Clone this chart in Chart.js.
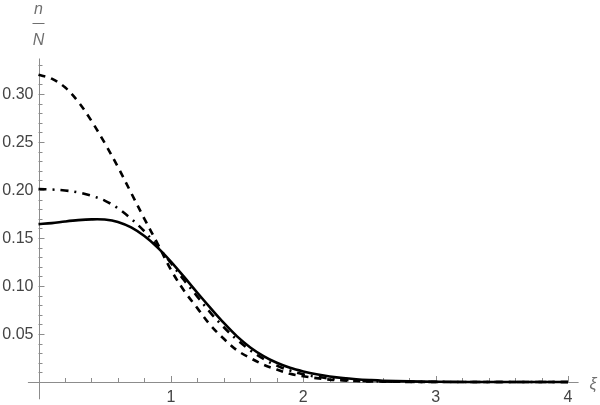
<!DOCTYPE html>
<html>
<head>
<meta charset="utf-8">
<script src="https://cdn.jsdelivr.net/npm/chart.js@4/dist/chart.umd.min.js"></script>
<style>
    html, body { margin: 0; padding: 0; background: #fff; }
    #wrap { width: 600px; height: 405px; }
</style>
</head>
<body>
<div id="wrap"><canvas id="plot" width="600" height="405"></canvas></div>
<script>
// xi values (sample positions)
const xiValues = [0, 0.1, 0.2, 0.3, 0.4, 0.5, 0.6, 0.7, 0.8, 0.9,
    1.0, 1.1, 1.2, 1.3, 1.4, 1.5, 1.6, 1.7, 1.8, 1.9,
    2.0, 2.1, 2.2, 2.3, 2.4, 2.5, 2.6, 2.8, 3.0, 3.5, 4.0];

// dashed curve
const dashedValues = [0.320, 0.316, 0.307, 0.292, 0.272, 0.249, 0.224, 0.197, 0.170, 0.144,
    0.117, 0.095, 0.077, 0.059, 0.045, 0.033, 0.025, 0.018, 0.013, 0.0085,
    0.006, 0.004, 0.0025, 0.0016, 0.001, 0.0006, 0.0004, 0.0001, 0, 0, 0];

// dash-dot curve
const dashDotValues = [0.201, 0.2005, 0.1995, 0.1975, 0.194, 0.189, 0.181, 0.170, 0.157, 0.141,
    0.124, 0.106, 0.089, 0.072, 0.057, 0.044, 0.033, 0.024, 0.017, 0.012,
    0.008, 0.0055, 0.0036, 0.0023, 0.0015, 0.0009, 0.0006, 0.0002, 0.0001, 0, 0];

// solid curve
const solidValues = [0.1645, 0.1655, 0.1672, 0.1686, 0.1694, 0.1692, 0.1668, 0.1610, 0.1520, 0.1400,
    0.1255, 0.1095, 0.0930, 0.0770, 0.0615, 0.0475, 0.0360, 0.0270, 0.0200, 0.0148,
    0.0110, 0.0080, 0.0058, 0.0041, 0.0029, 0.0020, 0.0013, 0.0006, 0.0002, 0, 0];

// ticks
const xMajorTicks = [1, 2, 3, 4];
const xTickLabels = ['1', '2', '3', '4'];
const yMajorTicks = [0.05, 0.10, 0.15, 0.20, 0.25, 0.30];
const yTickLabels = ['0.05', '0.10', '0.15', '0.20', '0.25', '0.30'];

const AXIS_COLOR = '#8c8c8c';
const LABEL_COLOR = '#444';
const FONT = '16px "Liberation Sans", Arial, sans-serif';

function toPoints(values) {
    return xiValues.map((x, i) => ({ x: x, y: values[i] }));
}

// axes in the Mathematica style: crossing at origin, ticks pointing inward
const axesPlugin = {
    id: 'axes',
    beforeDatasetsDraw(chart) {
        const ctx = chart.ctx;
        const xs = chart.scales.x;
        const ys = chart.scales.y;
        const x0 = xs.getPixelForValue(0);
        const y0 = ys.getPixelForValue(0);

        ctx.save();
        ctx.strokeStyle = AXIS_COLOR;
        ctx.lineWidth = 1;

        // axis lines
        ctx.beginPath();
        ctx.moveTo(xs.getPixelForValue(-0.08), y0 + 0.5);
        ctx.lineTo(xs.getPixelForValue(4.08), y0 + 0.5);
        ctx.moveTo(Math.round(x0) + 0.5, ys.getPixelForValue(-0.018));
        ctx.lineTo(Math.round(x0) + 0.5, ys.getPixelForValue(ys.max));
        ctx.stroke();

        // x ticks every 0.2
        ctx.beginPath();
        for (let k = 1; k <= 20; k++) {
            const v = k * 0.2;
            const px = Math.round(xs.getPixelForValue(v)) + 0.5;
            const len = (k % 5 === 0) ? 6 : 4;
            ctx.moveTo(px, y0);
            ctx.lineTo(px, y0 - len);
        }
        // y ticks every 0.01
        for (let k = 1; k <= 33; k++) {
            const v = k * 0.01;
            const py = Math.round(ys.getPixelForValue(v)) + 0.5;
            const len = (k % 5 === 0) ? 6 : 4;
            ctx.moveTo(x0, py);
            ctx.lineTo(x0 + len, py);
        }
        ctx.stroke();

        // tick labels
        ctx.fillStyle = LABEL_COLOR;
        ctx.font = FONT;
        ctx.textAlign = 'center';
        ctx.textBaseline = 'top';
        xMajorTicks.forEach((v, i) => {
            ctx.fillText(xTickLabels[i], xs.getPixelForValue(v), y0 + 8);
        });
        ctx.textAlign = 'right';
        ctx.textBaseline = 'middle';
        yMajorTicks.forEach((v, i) => {
            ctx.fillText(yTickLabels[i], x0 - 5, ys.getPixelForValue(v) + 1);
        });

        // axis labels
        ctx.fillStyle = '#6f6f6f';
        ctx.font = 'italic ' + FONT;
        ctx.textAlign = 'center';
        ctx.textBaseline = 'alphabetic';
        ctx.fillText('n', x0, 14);
        ctx.fillText('N', x0, 45);
        ctx.beginPath();
        ctx.strokeStyle = '#6f6f6f';
        ctx.moveTo(x0 - 6, 23.5);
        ctx.lineTo(x0 + 6, 23.5);
        ctx.stroke();
        ctx.textAlign = 'left';
        ctx.textBaseline = 'middle';
        ctx.fillText('ξ', xs.getPixelForValue(4.08) + 11, y0 + 3);
        ctx.restore();
    }
};

const lineBase = {
    borderColor: '#000',
    borderWidth: 2.6,
    pointRadius: 0,
    fill: false,
    tension: 0.35
};

new Chart(document.getElementById('plot'), {
    type: 'line',
    data: {
        datasets: [
            Object.assign({}, lineBase, { label: 'dashed', data: toPoints(dashedValues), borderDash: [7, 6] }),
            Object.assign({}, lineBase, { label: 'dashdot', data: toPoints(dashDotValues), borderDash: [8, 6, 2, 6] }),
            Object.assign({}, lineBase, { label: 'solid', data: toPoints(solidValues) })
        ]
    },
    options: {
        responsive: false,
        animation: false,
        layout: { padding: { left: 38.5, right: 32, top: 58.5, bottom: 23 } },
        plugins: { legend: { display: false }, tooltip: { enabled: false } },
        scales: {
            x: { type: 'linear', min: 0, max: 4, display: false },
            y: { type: 'linear', min: 0, max: 0.337, display: false }
        },
        clip: false
    },
    plugins: [axesPlugin]
});
</script>
</body>
</html>
